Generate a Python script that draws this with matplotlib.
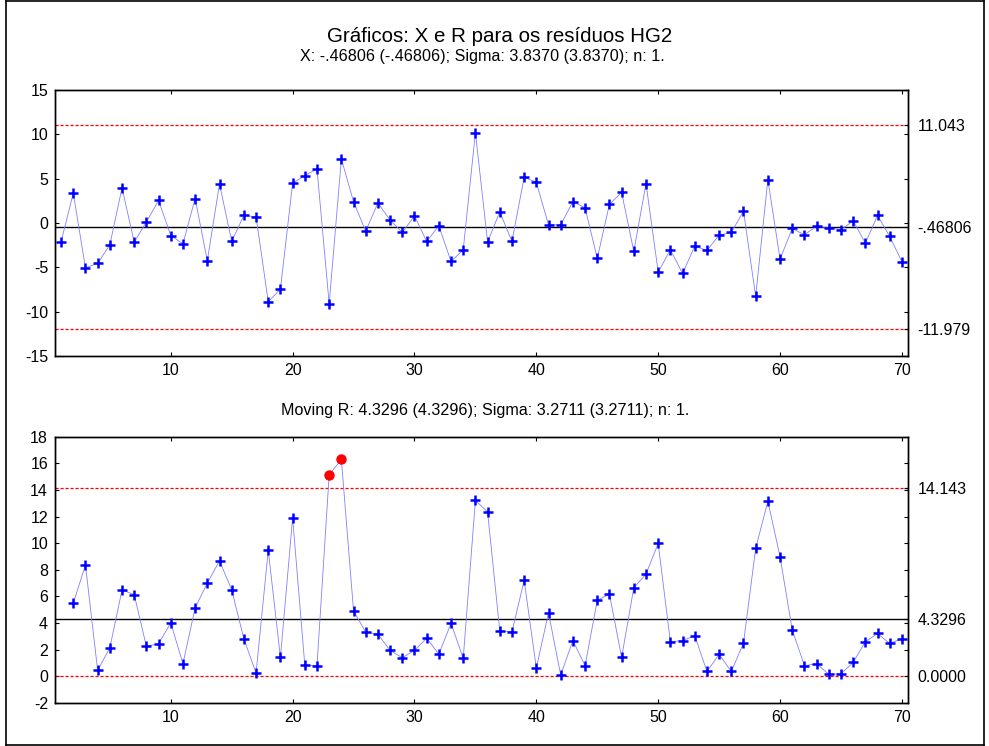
import numpy as np
import matplotlib
matplotlib.use("Agg")
import matplotlib.pyplot as plt
from matplotlib.lines import Line2D

plt.rcParams['font.family'] = ['Liberation Sans', 'DejaVu Sans']
plt.rcParams['axes.unicode_minus'] = False

# ---- data ----
obs = list(range(1, 71))
x_values = [-2.12, 3.36, -5.05, -4.56, -2.46, 3.96, -2.16, 0.13, 2.54, -1.41,
            -2.34, 2.76, -4.26, 4.41, -2.05, 0.85, 0.70, -8.88, -7.45, 4.49,
            5.35, 6.10, -9.11, 7.23, 2.39, -0.92, 2.27, 0.32, -1.07, 0.81,
            -2.08, -0.32, -4.34, -3.02, 10.20, -2.16, 1.26, -2.08, 5.17, 4.57,
            -0.21, -0.21, 2.42, 1.71, -4.00, 2.12, 3.44, -3.21, 4.45, -5.54,
            -3.02, -5.69, -2.61, -3.10, -1.37, -1.07, 1.34, -8.28, 4.90, -4.07,
            -0.62, -1.33, -0.36, -0.54, -0.77, 0.25, -2.27, 0.85, -1.52, -4.37]

mr_obs = list(range(2, 71))
mr_values = [5.51, 8.36, 0.45, 2.15, 6.49, 6.14, 2.25, 2.45, 4.02, 0.95,
             5.14, 7.01, 8.68, 6.49, 2.82, 0.25, 9.46, 1.42, 11.90, 0.85,
             0.80, 15.14, 16.29, 4.92, 3.32, 3.17, 1.95, 1.40, 1.95, 2.87,
             1.67, 3.99, 1.35, 13.22, 12.35, 3.42, 3.34, 7.21, 0.63, 4.77,
             0.10, 2.69, 0.80, 5.72, 6.17, 1.42, 6.66, 7.68, 9.98, 2.60,
             2.69, 3.05, 0.37, 1.65, 0.37, 2.50, 9.61, 13.15, 8.98, 3.49,
             0.80, 0.95, 0.15, 0.20, 1.05, 2.60, 3.22, 2.47, 2.84]

x_limits = [-11.979, -0.46806, 11.043]
x_limit_labels = ['-11.979', '-.46806', '11.043']
mr_limits = [0.0, 4.3296, 14.143]
mr_limit_labels = ['0.0000', '4.3296', '14.143']

x_yticks = [-15, -10, -5, 0, 5, 10, 15]
mr_yticks = [-2, 0, 2, 4, 6, 8, 10, 12, 14, 16, 18]
xticks = [10, 20, 30, 40, 50, 60, 70]

title = 'Gráficos: X e R para os resíduos HG2'
sub_x = 'X: -.46806 (-.46806); Sigma: 3.8370 (3.8370); n: 1.'
sub_mr = 'Moving R: 4.3296 (4.3296); Sigma: 3.2711 (3.2711); n: 1.'

# ---- figure ----
W, H = 989, 746
fig = plt.figure(figsize=(W / 100, H / 100), dpi=100)

def fx(px):
    return px / W

def fy(py):
    return 1 - py / H

ax1 = fig.add_axes([fx(55), fy(356), fx(908) - fx(55), fy(90) - fy(356)])
ax2 = fig.add_axes([fx(55), fy(703), fx(908) - fx(55), fy(436.7) - fy(703)])

line_col = '#8080ff'
mark_col = '#0000ff'
tick_fs = 11.5


def draw(ax, xs, ys, limits, labels, yticks, ylim):
    lcl, cl, ucl = limits
    ax.axhline(cl, color='black', lw=1.0, zorder=2)
    ax.axhline(ucl, color='#ff0000', lw=0.9, ls=(0, (2.5, 1.5)), zorder=2)
    ax.axhline(lcl, color='#ff0000', lw=0.9, ls=(0, (2.5, 1.5)), zorder=2)
    ax.plot(xs, ys, color=line_col, lw=0.6, zorder=3)
    xs_a = np.array(xs)
    ys_a = np.array(ys)
    out = (ys_a > ucl) | (ys_a < lcl)
    ax.plot(xs_a[~out], ys_a[~out], ls='none', marker='+', ms=7, mew=1.8,
            color=mark_col, zorder=4)
    ax.plot(xs_a[out], ys_a[out], ls='none', marker='o', ms=6.5,
            color='#ff0000', mec='#ff0000', zorder=4)
    ax.set_xlim(0.5, 70.5)
    ax.set_ylim(*ylim)
    ax.set_xticks(xticks)
    ax.set_yticks(yticks)
    ax.tick_params(axis='both', direction='in', length=3, width=0.8,
                   labelsize=tick_fs, top=True, right=False, pad=5)
    for s in ax.spines.values():
        s.set_linewidth(1.0)
    tw = ax.twinx()
    tw.set_ylim(*ylim)
    tw.set_yticks(limits)
    tw.set_yticklabels(labels)
    tw.set_yticks(yticks, minor=True)
    tw.tick_params(axis='y', which='both', direction='in', length=3,
                   width=0.8, labelsize=tick_fs, pad=7)
    for s in tw.spines.values():
        s.set_linewidth(1.0)


draw(ax1, obs, x_values, x_limits, x_limit_labels, x_yticks, (-15, 15))
draw(ax2, mr_obs, mr_values, mr_limits, mr_limit_labels, mr_yticks, (-2, 18))

fig.text(fx(500), fy(36), title, ha='center', va='center', fontsize=14.8)
fig.text(fx(482), fy(57), sub_x, ha='center', va='center', fontsize=11.6)
fig.text(fx(485), fy(410), sub_mr, ha='center', va='center', fontsize=11.6)

# outer frame
for (x0, y0, x1, y1) in [(6, 1, 6, 745), (984, 1, 984, 745),
                         (6, 1, 984, 1), (6, 745, 984, 745)]:
    fig.add_artist(Line2D([fx(x0), fx(x1)], [fy(y0), fy(y1)],
                          color='black', lw=1.2, transform=fig.transFigure))

fig.savefig('out.png', dpi=100)
